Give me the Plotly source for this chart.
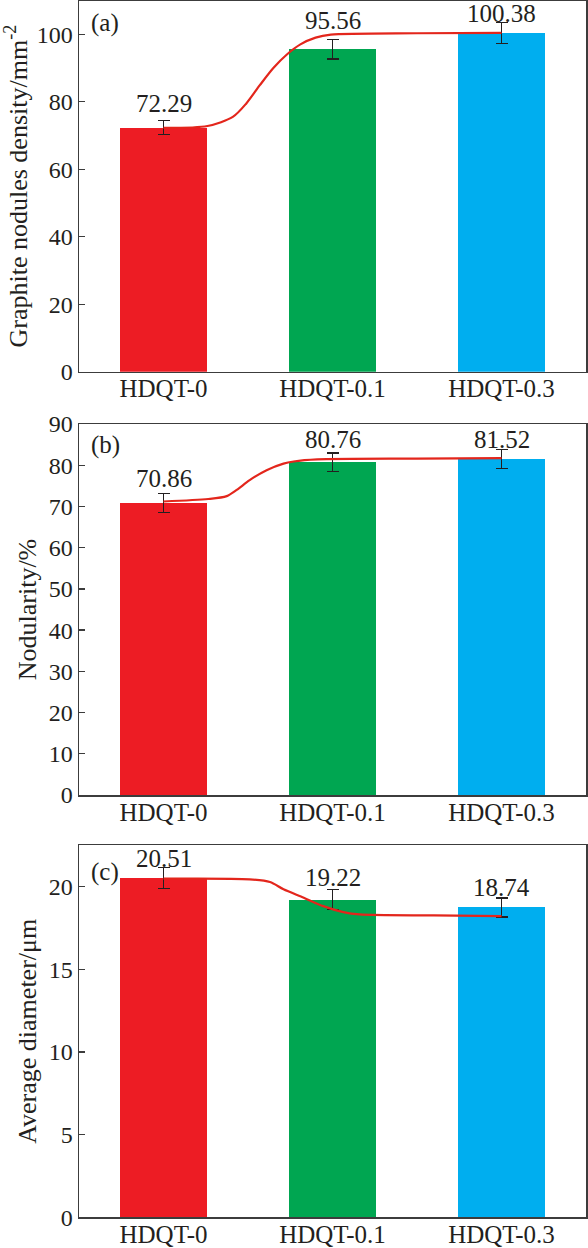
import plotly.graph_objects as go
from plotly.subplots import make_subplots

# ---------------- data ----------------
categories = ["HDQT-0", "HDQT-0.1", "HDQT-0.3"]
cat_pos = [0, 1, 2]

density = [72.29, 95.56, 100.38]
density_err = [2.1, 2.85, 3.05]

nodularity = [70.86, 80.76, 81.52]
nodularity_err = [2.3, 2.2, 2.3]

diameter = [20.51, 19.22, 18.74]
diameter_err = [0.63, 0.60, 0.58]

# fitted trend curves
density_fit_x = [0, 0.26, 0.41, 0.49, 0.57, 0.65, 0.73, 0.81, 0.90, 0.99, 1.5, 2.0]
density_fit_y = [72.25, 72.8, 75.5, 79.5, 84.9, 90.0, 94.0, 97.0, 99.0, 99.9, 100.3, 100.38]

nodularity_fit_x = [0, 0.265, 0.374, 0.433, 0.51, 0.61, 0.71, 0.77, 0.91, 1.5, 2.0]
nodularity_fit_y = [71.2, 71.8, 72.5, 74.0, 76.4, 78.8, 80.4, 80.9, 81.4, 81.6, 81.7]

diameter_fit_x = [0, 0.51, 0.63, 0.71, 0.83, 0.945, 1.064, 1.16, 1.6, 2.0]
diameter_fit_y = [20.48, 20.44, 20.28, 19.84, 19.33, 18.82, 18.46, 18.32, 18.26, 18.22]

# value-label heights (text anchor positions, data units)
density_label_y = [79.6, 104.1, 106.1]
nodularity_label_y = [76.8, 86.3, 86.3]
diameter_label_y = [21.7, 20.55, 19.96]

# ---------------- styles ----------------
bar_colors = ["#ED1C24", "#00A651", "#00AEEF"]
curve_color = "#E3261C"
ink = "#231F20"
axis_color = "#3C3C3C"
FONT = "Liberation Serif, Times New Roman, serif"

panels = [
    dict(vals=density, err=density_err, fx=density_fit_x, fy=density_fit_y,
         ly=density_label_y, rng=[0, 110], dtick=20, letter="(a)",
         title="Graphite nodules density/mm<sup>-2</sup>",
         dom=[1 - 371.7 / 1248, 1 - 0.5 / 1248], letter_y=0.939),
    dict(vals=nodularity, err=nodularity_err, fx=nodularity_fit_x, fy=nodularity_fit_y,
         ly=nodularity_label_y, rng=[0, 90], dtick=10, letter="(b)",
         title="Nodularity/%",
         dom=[1 - 795.0 / 1248, 1 - 424.0 / 1248], letter_y=0.943),
    dict(vals=diameter, err=diameter_err, fx=diameter_fit_x, fy=diameter_fit_y,
         ly=diameter_label_y, rng=[0, 22.5], dtick=5, letter="(c)",
         title="Average diameter/μm",
         dom=[1 - 1217.3 / 1248, 1 - 845.3 / 1248], letter_y=0.929),
]

fig = make_subplots(rows=3, cols=1)

annotations = []
for i, p in enumerate(panels, start=1):
    fig.add_trace(go.Bar(
        x=cat_pos, y=p["vals"], width=0.51,
        marker=dict(color=bar_colors, line=dict(width=0)),
        error_y=dict(type="data", array=p["err"], visible=True,
                     color=ink, thickness=1.3, width=6),
        showlegend=False, hoverinfo="skip"), row=i, col=1)
    fig.add_trace(go.Scatter(
        x=p["fx"], y=p["fy"], mode="lines",
        line=dict(color=curve_color, width=2.2, shape="spline", smoothing=0.8),
        showlegend=False, hoverinfo="skip"), row=i, col=1)

    xa = "x" if i == 1 else f"x{i}"
    ya = "y" if i == 1 else f"y{i}"
    for xv, lv, v in zip(cat_pos, p["ly"], p["vals"]):
        annotations.append(dict(
            x=xv, y=lv, xref=xa, yref=ya, text=f"{v:.2f}", showarrow=False,
            xanchor="center", yanchor="middle",
            font=dict(family=FONT, size=25, color=ink)))
    annotations.append(dict(
        x=0.02, y=p["letter_y"], xref=f"{xa} domain", yref=f"{ya} domain",
        text=p["letter"], showarrow=False, xanchor="left", yanchor="middle",
        font=dict(family=FONT, size=25, color=ink)))

    fig.update_xaxes(
        row=i, col=1, domain=[79 / 588, 586 / 588], range=[-0.5, 2.5],
        tickvals=cat_pos, ticktext=categories, ticks="", showgrid=False,
        zeroline=False, showline=True, mirror=True, linecolor=axis_color,
        linewidth=1.5, tickfont=dict(family=FONT, size=25, color=ink),
        ticklabelstandoff=-6,
        automargin=False, fixedrange=True)
    fig.update_yaxes(
        row=i, col=1, domain=p["dom"], range=p["rng"], dtick=p["dtick"],
        ticks="inside", ticklen=6, tickwidth=1.3, tickcolor=axis_color,
        showgrid=False, zeroline=False, showline=True, mirror=True,
        linecolor=axis_color, linewidth=1.5,
        tickfont=dict(family=FONT, size=24, color=ink),
        title=dict(text=p["title"], font=dict(family=FONT, size=26, color=ink),
                   standoff=4),
        automargin=False, fixedrange=True)

fig.update_layout(
    width=588, height=1248, autosize=False,
    margin=dict(l=0, r=0, t=0, b=0),
    paper_bgcolor="white", plot_bgcolor="white",
    bargap=0, annotations=annotations,
    font=dict(family=FONT, color=ink),
)

fig.write_html(
    "out.html",
    config={"displayModeBar": False, "staticPlot": True},
    post_script="document.body.style.margin='0px';"
                "document.body.style.overflow='hidden';",
)
